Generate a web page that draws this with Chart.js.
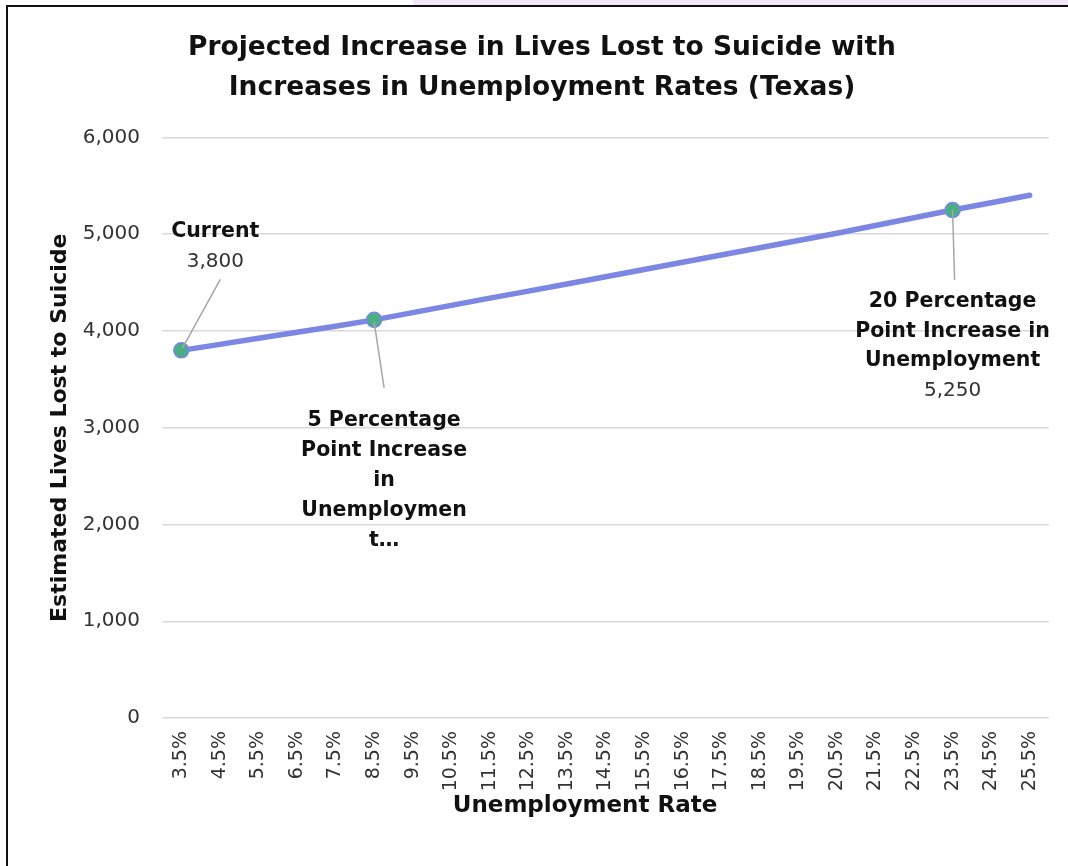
<!DOCTYPE html>
<html>
<head>
<meta charset="utf-8">
<script src="https://cdn.jsdelivr.net/npm/chart.js@4.4.1/dist/chart.umd.min.js"></script>
<style>
  html, body { margin: 0; padding: 0; background: #ffffff; width: 1068px; height: 866px; overflow: hidden; }
  #pink { position: absolute; left: 413px; top: 0; width: 655px; height: 5px; background: #f3e6f7; }
  #frame { position: absolute; left: 6px; top: 5px; width: 1062px; height: 861px; border-left: 2px solid #111; border-top: 2px solid #111; box-sizing: border-box; }
  #c { position: absolute; left: 8px; top: 7px; }
</style>
</head>
<body>
<div id="pink"></div>
<div id="frame"></div>
<canvas id="c" width="1060" height="859"></canvas>
<script>
// ---- Data ----
const categories = ['3.5%','4.5%','5.5%','6.5%','7.5%','8.5%','9.5%','10.5%','11.5%','12.5%','13.5%','14.5%','15.5%','16.5%','17.5%','18.5%','19.5%','20.5%','21.5%','22.5%','23.5%','24.5%','25.5%'];
const livesLost = [3800,3862,3925,3988,4050,4115,4190,4265,4340,4412,4485,4560,4635,4710,4785,4860,4935,5010,5090,5170,5250,5325,5403];
const labeledIndices = [0, 5, 20];
const labelNames = [
  ['Current'],
  ['5 Percentage', 'Point Increase', 'in', 'Unemploymen', 't…'],
  ['20 Percentage', 'Point Increase in', 'Unemployment']
];
const labelValues = ['3,800', null, '5,250'];
const yTicks = [0,1000,2000,3000,4000,5000,6000];
const chartTitle = ['Projected Increase in Lives Lost to Suicide with', 'Increases in Unemployment Rates (Texas)'];
const xTitle = 'Unemployment Rate';
const yTitle = 'Estimated Lives Lost to Suicide';

// ---- Styles ----
const FONT = "'DejaVu Sans', sans-serif";
const LINE_COLOR = '#7b87e3';
const MARKER_FILL = '#4aae84';

// label layout relative to the data point (pixels)
const labelLayout = [
  { dx: 34, firstDy: -119, lineGap: 30, leader: [[39,-71],[1,-2]] },
  { dx: 10, firstDy: 101, lineGap: 30, leader: [[0,2],[10,68]] },
  { dx: 0, firstDy: 92, lineGap: 29.5, leader: [[0,0],[2,70]] }
];

const textPlugin = {
  id: 'pointLabels',
  afterDatasetsDraw(chart) {
    const ctx = chart.ctx;
    const meta = chart.getDatasetMeta(0);
    ctx.save();
    labeledIndices.forEach((idx, k) => {
      const pt = meta.data[idx];
      const px = pt.x, py = pt.y;
      const L = labelLayout[k];
      ctx.strokeStyle = '#a6a6a6';
      ctx.lineWidth = 1.5;
      ctx.beginPath();
      ctx.moveTo(px + L.leader[0][0], py + L.leader[0][1]);
      ctx.lineTo(px + L.leader[1][0], py + L.leader[1][1]);
      ctx.stroke();
      ctx.textAlign = 'center';
      ctx.textBaseline = 'middle';
      let y = py + L.firstDy;
      labelNames[k].forEach(line => {
        ctx.font = "bold 20.5px " + FONT;
        ctx.fillStyle = '#111';
        ctx.fillText(line, px + L.dx, y);
        y += L.lineGap;
      });
      if (labelValues[k]) {
        ctx.font = "20px " + FONT;
        ctx.fillStyle = '#333';
        ctx.fillText(labelValues[k], px + L.dx, y);
      }
    });
    ctx.fillStyle = '#111';
    ctx.textAlign = 'center';
    ctx.textBaseline = 'middle';
    // x axis title
    ctx.font = "bold 23px " + FONT;
    ctx.fillText(xTitle, 577, 799);
    // chart title
    ctx.font = "bold 26.5px " + FONT;
    chartTitle.forEach((t, i) => ctx.fillText(t, 534, 41 + i * 40));
    ctx.restore();
  }
};

new Chart(document.getElementById('c'), {
  type: 'line',
  data: {
    labels: categories,
    datasets: [{
      data: livesLost,
      borderColor: LINE_COLOR,
      borderWidth: 5.5,
      borderCapStyle: 'round',
      tension: 0,
      fill: false,
      pointRadius: livesLost.map((v, i) => labeledIndices.includes(i) ? 7.5 : 0),
      pointBackgroundColor: MARKER_FILL,
      pointBorderColor: LINE_COLOR,
      pointBorderWidth: 1.5
    }]
  },
  options: {
    responsive: false,
    animation: false,
    devicePixelRatio: 1,
    layout: { padding: { left: 0, right: 19, top: 130.5, bottom: 0 } },
    plugins: {
      legend: { display: false },
      tooltip: { enabled: false },
      title: { display: false }
    },
    scales: {
      x: {
        type: 'category',
        offset: true,
        grid: { display: false, drawTicks: false },
        border: { display: false },
        ticks: {
          color: '#333',
          font: { family: FONT, size: 19 },
          minRotation: 90, maxRotation: 90,
          autoSkip: false,
          padding: 13
        },
        title: { display: false },
        afterFit(s) { s.height = 148; }
      },
      y: {
        min: 0, max: 6000,
        afterBuildTicks(s) { s.ticks = yTicks.map(v => ({ value: v })); },
        grid: { color: '#d9d9d9', lineWidth: 1.5, drawTicks: false },
        border: { display: false },
        ticks: {
          color: '#333',
          font: { family: FONT, size: 20 },
          padding: 22,
          callback: v => v.toLocaleString('en-US')
        },
        title: {
          display: true, text: yTitle, color: '#111',
          font: { family: FONT, size: 22, weight: 'bold' },
          padding: { top: 39, bottom: 0 }
        },
        afterFit(s) { s.width = 154; }
      }
    }
  },
  plugins: [textPlugin]
});
</script>
</body>
</html>
